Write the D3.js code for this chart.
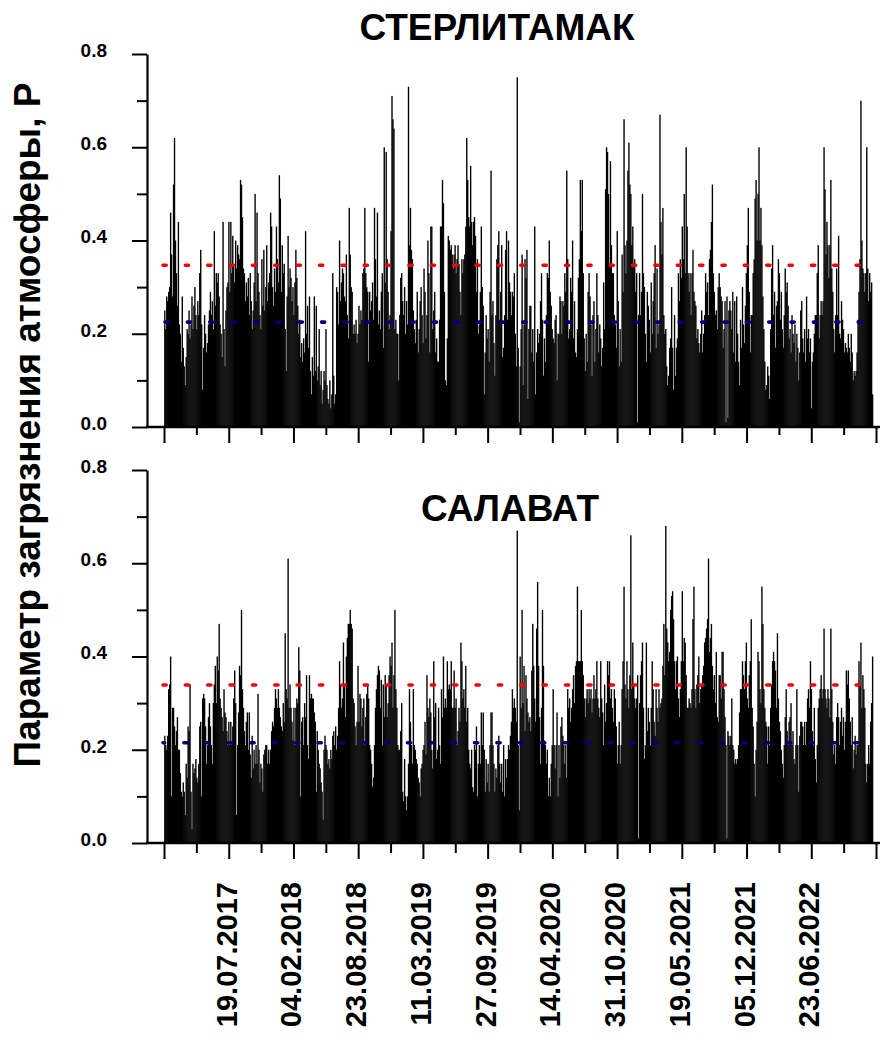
<!DOCTYPE html>
<html>
<head>
<meta charset="utf-8">
<script src="https://cdn.jsdelivr.net/npm/d3@7"></script>
<style>
  html, body { margin: 0; padding: 0; background: #fff; }
  svg { display: block; }
  text { font-family: "Liberation Sans", Arial, sans-serif; font-weight: bold; fill: #000; }
</style>
</head>
<body>
<svg id="chart" width="886" height="1042"></svg>
<script>
// Series: pollution parameter P, one value per 3-day step starting 01.01.2017
const seriesStart = "01.01.2017";
const stepDays = 3;

const sterlitamak = [
  0.25,0.21,0.28,0.27,0.29,0.30,0.46,0.37,0.28,0.52,0.62,0.40,0.33,0.26,0.44,0.22,0.20,0.14,0.28,0.17,
  0.13,0.09,0.15,0.21,0.20,0.25,0.19,0.22,0.28,0.21,0.26,0.30,0.24,0.21,0.27,0.24,0.33,0.38,0.22,0.08,
  0.17,0.24,0.20,0.16,0.18,0.22,0.25,0.29,0.24,0.27,0.21,0.42,0.26,0.33,0.31,0.33,0.28,0.22,0.20,0.15,
  0.44,0.21,0.13,0.25,0.30,0.31,0.44,0.29,0.44,0.33,0.41,0.35,0.31,0.40,0.34,0.39,0.37,0.36,0.53,0.52,
  0.45,0.34,0.33,0.27,0.31,0.28,0.32,0.24,0.33,0.27,0.21,0.25,0.31,0.50,0.27,0.46,0.33,0.29,0.24,0.21,
  0.36,0.26,0.38,0.25,0.30,0.39,0.27,0.31,0.33,0.46,0.43,0.30,0.26,0.34,0.29,0.43,0.36,0.31,0.54,0.49,
  0.29,0.39,0.33,0.35,0.21,0.12,0.28,0.41,0.30,0.34,0.32,0.27,0.30,0.24,0.31,0.38,0.32,0.26,0.20,0.23,
  0.15,0.18,0.14,0.19,0.16,0.42,0.20,0.26,0.17,0.28,0.12,0.07,0.15,0.11,0.28,0.12,0.26,0.10,0.13,0.21,
  0.09,0.12,0.05,0.08,0.12,0.10,0.21,0.09,0.06,0.05,0.10,0.04,0.07,0.33,0.11,0.05,0.07,
  0.30,0.29,0.22,0.40,0.27,0.31,0.34,0.33,0.28,0.27,0.37,0.24,0.19,0.47,0.37,0.30,0.29,0.20,0.22,0.20,
  0.23,0.18,0.20,0.26,0.22,0.25,0.23,0.33,0.34,0.47,0.33,0.30,0.29,0.14,0.29,0.25,0.27,0.31,0.23,0.47,
  0.36,0.28,0.46,0.22,0.25,0.21,0.29,0.33,0.17,0.60,0.31,0.59,0.36,0.29,0.21,0.24,0.42,0.71,0.66,0.64,
  0.21,0.23,0.20,0.20,0.10,0.24,0.32,0.33,0.27,0.24,0.30,0.20,0.27,0.22,0.73,0.39,0.47,0.38,0.36,0.25,
  0.21,0.18,0.23,0.29,0.16,0.21,0.27,0.30,0.24,0.18,0.34,0.29,0.19,0.24,0.40,0.33,0.16,0.43,0.43,0.21,
  0.25,0.29,0.16,0.19,0.14,0.14,0.23,0.43,0.43,0.53,0.48,0.29,0.10,0.09,0.19,0.41,0.40,0.38,0.39,0.37,
  0.34,0.37,0.39,0.33,0.36,0.39,0.35,0.29,0.24,0.36,0.33,0.36,0.37,0.43,0.62,0.53,0.45,0.43,0.56,0.44,
  0.39,0.44,0.45,0.41,0.29,0.36,0.20,0.22,0.29,0.43,0.30,0.26,0.07,0.16,0.24,0.19,0.21,0.14,0.29,0.55,
  0.24,0.27,0.18,0.11,0.24,0.36,0.39,0.42,0.23,0.29,0.39,0.15,0.17,0.24,0.38,0.42,0.23,0.40,0.31,0.29,
  0.24,0.29,0.28,0.33,
  0.20,0.13,0.75,0.17,0.01,0.13,0.21,0.37,0.09,0.22,0.36,0.32,0.38,0.06,0.21,0.26,0.26,0.16,0.21,0.14,
  0.43,0.07,0.16,0.21,0.18,0.20,0.27,0.33,0.23,0.11,0.19,0.14,0.24,0.33,0.32,0.40,0.29,0.26,0.21,0.19,
  0.18,0.23,0.24,0.10,0.20,0.20,0.28,0.27,0.20,0.27,0.26,0.33,0.29,0.55,0.36,0.19,0.21,0.32,0.29,0.40,
  0.19,0.27,0.16,0.15,0.21,0.32,0.36,0.53,0.42,0.53,0.33,0.19,0.12,0.20,0.14,0.29,0.33,0.28,0.22,0.11,
  0.24,0.27,0.14,0.21,0.33,0.24,0.16,0.22,0.19,0.13,0.17,0.31,0.21,0.51,0.60,0.59,0.50,0.35,0.57,0.39,
  0.33,0.33,0.24,0.22,0.17,0.42,0.27,0.13,0.21,0.14,0.37,0.29,0.66,0.39,0.33,0.40,0.55,0.61,0.52,0.50,
  0.39,0.43,0.35,0.36,0.29,0.33,0.01,0.24,0.33,0.24,0.29,0.50,0.33,0.30,0.20,0.14,0.29,0.26,0.23,0.16,
  0.31,0.20,0.27,0.33,0.39,0.17,0.34,0.20,0.22,0.67,0.44,0.37,0.47,0.24,0.20,0.21,0.13,0.09,0.11,0.17,
  0.19,0.30,0.17,0.08,0.24,0.11,0.17,0.19,0.33,0.27,0.36,0.32,0.43,0.36,0.50,0.33,0.60,0.43,0.33,0.29,
  0.33,0.24,0.33,0.38,0.29,
  0.27,0.26,0.19,0.21,0.18,0.16,0.20,0.25,0.16,0.20,0.24,0.33,0.29,0.31,0.24,0.36,0.38,0.44,0.52,0.33,
  0.29,0.24,0.25,0.21,0.30,0.33,0.30,0.28,0.27,0.17,0.21,0.27,0.01,0.28,0.02,0.25,0.27,0.25,0.21,0.29,
  0.16,0.27,0.14,0.28,0.20,0.14,0.09,0.23,0.17,0.30,0.22,0.18,0.26,0.33,0.39,0.47,0.29,0.16,0.24,0.24,
  0.33,0.36,0.49,0.53,0.40,0.50,0.60,0.40,0.47,0.39,0.28,0.21,0.14,0.08,0.09,0.13,0.11,0.06,0.21,0.34,
  0.39,0.24,0.29,0.17,0.26,0.27,0.36,0.33,0.23,0.29,0.21,0.17,0.24,0.34,0.29,0.31,0.26,0.19,0.21,0.16,
  0.24,0.20,0.18,0.22,0.14,0.20,0.17,0.10,0.16,0.25,0.27,0.19,0.16,0.21,0.14,0.28,0.19,0.21,0.16,0.19,
  0.04,0.14,0.16,0.20,0.24,0.24,0.33,0.39,0.19,0.24,0.27,0.24,0.27,0.60,0.51,0.37,0.44,0.39,0.32,0.39,
  0.53,0.34,0.29,0.21,0.16,0.24,0.34,0.24,0.41,0.20,0.19,0.27,0.23,0.21,0.16,0.18,0.17,0.16,0.20,0.17,
  0.14,0.20,0.16,0.10,0.12,0.11,0.12,0.16,0.23,0.29,0.36,0.70,0.40,0.34,0.33,0.29,0.33,0.60,0.34,0.27,
  0.33,0.29,0.31,0.07
];

const salavat = [
  0.23,0.21,0.20,0.23,0.33,0.34,0.40,0.10,0.29,0.29,0.25,0.21,0.24,0.27,0.20,0.20,0.15,0.11,0.10,0.13,
  0.11,0.06,0.17,0.14,0.25,0.24,0.34,0.11,0.03,0.17,0.15,0.16,0.18,0.14,0.13,0.17,0.25,0.26,0.10,0.31,
  0.32,0.31,0.25,0.17,0.21,0.27,0.30,0.25,0.21,0.17,0.30,0.34,0.38,0.30,0.40,0.37,0.47,0.31,0.29,0.27,
  0.24,0.33,0.28,0.27,0.24,0.21,0.26,0.21,0.26,0.21,0.25,0.31,0.37,0.30,0.06,0.21,0.28,0.38,0.36,0.50,
  0.33,0.29,0.24,0.21,0.26,0.28,0.20,0.28,0.19,0.14,0.23,0.16,0.20,0.17,0.21,0.17,0.32,0.20,0.13,0.17,
  0.16,0.11,0.19,0.20,0.21,0.21,0.17,0.20,0.17,0.20,0.24,0.26,0.25,0.29,0.33,0.31,0.29,0.33,0.29,0.27,
  0.25,0.24,0.30,0.26,0.45,0.33,0.31,0.61,0.29,0.34,0.29,0.26,0.22,0.29,0.21,0.29,0.31,0.30,0.42,0.37,
  0.10,0.26,0.27,0.21,0.30,0.27,0.36,0.21,0.18,0.36,0.31,0.32,0.31,0.31,0.28,0.26,0.11,0.24,0.20,0.17,
  0.16,0.13,0.11,0.05,0.20,0.23,0.21,0.20,0.17,0.18,0.16,0.20,0.18,0.23,0.24,0.21,0.25,
  0.20,0.23,0.29,0.39,0.34,0.29,0.31,0.43,0.34,0.27,0.40,0.44,0.47,0.47,0.50,0.47,0.46,0.31,0.30,0.25,
  0.21,0.26,0.38,0.26,0.32,0.31,0.25,0.29,0.31,0.21,0.27,0.32,0.34,0.31,0.21,0.20,0.17,0.12,0.14,0.21,
  0.29,0.33,0.36,0.38,0.37,0.29,0.35,0.21,0.34,0.27,0.36,0.34,0.27,0.30,0.36,0.40,0.38,0.43,0.29,0.36,
  0.50,0.33,0.29,0.21,0.20,0.20,0.24,0.30,0.11,0.09,0.18,0.10,0.07,0.10,0.17,0.33,0.26,0.21,0.17,0.33,
  0.21,0.20,0.18,0.17,0.14,0.13,0.10,0.16,0.17,0.20,0.21,0.26,0.19,0.36,0.29,0.27,0.31,0.28,0.20,0.16,
  0.39,0.27,0.30,0.18,0.20,0.29,0.21,0.17,0.33,0.27,0.40,0.29,0.31,0.29,0.39,0.33,0.34,0.33,0.39,0.29,
  0.29,0.37,0.29,0.31,0.21,0.24,0.29,0.26,0.43,0.39,0.31,0.33,0.29,0.38,0.26,0.29,0.20,0.17,0.16,0.20,
  0.12,0.11,0.21,0.20,0.25,0.10,0.17,0.21,0.17,0.28,0.21,0.28,0.20,0.11,0.18,0.13,0.17,0.11,0.21,0.28,
  0.28,0.21,0.17,0.11,0.16,0.14,0.21,0.23,0.17,0.13,0.17,0.11,0.21,0.10,0.18,0.14,0.18,0.21,0.20,0.23,
  0.26,0.33,0.29,0.31,
  0.29,0.26,0.67,0.21,0.07,0.40,0.29,0.50,0.30,0.38,0.24,0.36,0.31,0.28,0.26,0.27,0.24,0.37,0.47,0.38,
  0.31,0.26,0.46,0.56,0.38,0.27,0.17,0.29,0.50,0.38,0.22,0.21,0.17,0.20,0.10,0.14,0.10,0.17,0.21,0.33,
  0.21,0.16,0.21,0.28,0.10,0.21,0.14,0.25,0.27,0.23,0.21,0.17,0.21,0.14,0.33,0.29,0.31,0.26,0.29,0.33,
  0.36,0.30,0.38,0.39,0.55,0.39,0.39,0.39,0.50,0.39,0.36,0.31,0.27,0.31,0.33,0.30,0.33,0.31,0.33,0.28,
  0.31,0.36,0.31,0.33,0.39,0.31,0.29,0.27,0.39,0.31,0.28,0.21,0.34,0.26,0.30,0.39,0.36,0.39,0.31,0.33,
  0.29,0.26,0.33,0.31,0.25,0.17,0.21,0.26,0.17,0.21,0.33,0.39,0.55,0.34,0.31,0.39,0.33,0.29,0.36,0.66,
  0.33,0.43,0.34,0.31,0.29,0.31,0.36,0.01,0.30,0.36,0.39,0.43,0.29,0.18,0.21,0.43,0.24,0.29,0.26,0.21,
  0.29,0.39,0.33,0.26,0.23,0.33,0.29,0.26,0.33,0.29,0.30,0.31,0.38,0.47,0.36,0.68,0.46,0.43,0.39,0.41,
  0.50,0.53,0.54,0.48,0.39,0.33,0.39,0.40,0.31,0.27,0.33,0.39,0.54,0.39,0.44,0.43,0.36,0.29,0.29,0.31,
  0.30,0.29,0.33,0.48,0.55,
  0.33,0.29,0.34,0.36,0.40,0.30,0.33,0.34,0.36,0.38,0.43,0.44,0.46,0.48,0.61,0.41,0.44,0.47,0.38,0.33,
  0.36,0.30,0.41,0.27,0.26,0.36,0.36,0.31,0.41,0.41,0.33,0.27,0.21,0.01,0.24,0.23,0.21,0.23,0.31,0.21,
  0.20,0.17,0.18,0.17,0.18,0.21,0.28,0.33,0.33,0.39,0.36,0.33,0.39,0.43,0.31,0.29,0.36,0.39,0.48,0.29,
  0.25,0.17,0.10,0.20,0.26,0.41,0.39,0.33,0.30,0.55,0.47,0.33,0.29,0.26,0.25,0.17,0.25,0.21,0.29,0.34,
  0.39,0.41,0.39,0.37,0.29,0.45,0.31,0.26,0.24,0.20,0.17,0.14,0.21,0.27,0.33,0.24,0.21,0.26,0.27,0.30,
  0.21,0.24,0.18,0.17,0.21,0.33,0.21,0.11,0.23,0.26,0.26,0.25,0.21,0.26,0.21,0.26,0.31,0.33,0.29,0.39,
  0.33,0.24,0.21,0.29,0.18,0.13,0.21,0.29,0.31,0.33,0.36,0.31,0.33,0.46,0.33,0.31,0.29,0.33,0.31,0.27,
  0.46,0.33,0.26,0.19,0.21,0.17,0.27,0.30,0.27,0.21,0.26,0.29,0.23,0.27,0.20,0.26,0.37,0.34,0.37,0.31,
  0.26,0.21,0.27,0.16,0.20,0.23,0.19,0.21,0.21,0.39,0.34,0.43,0.29,0.36,0.33,0.29,0.17,0.13,0.17,0.21,
  0.17,0.26,0.30,0.40
];

const panelTitles = ["СТЕРЛИТАМАК", "САЛАВАТ"];
const upperLevels = [0.347, 0.339];   // red dotted level per panel
const meanLevels = [0.225, 0.215];    // blue dotted level per panel
const yMajorTicks = [0, 0.2, 0.4, 0.6, 0.8];
const yMinorTicks = [0.1, 0.3, 0.5, 0.7];
const dateLabels = ["19.07.2017", "04.02.2018", "23.08.2018", "11.03.2019", "27.09.2019",
                    "14.04.2020", "31.10.2020", "19.05.2021", "05.12.2021", "23.06.2022"];
const yTitle = "Параметр загрязнения атмосферы, Р";

const svg = d3.select("#chart");
const parse = d3.utcParse("%d.%m.%Y");
const t0 = parse(seriesStart);

// date axis: ticks every 100 days, labels every 200 days
const axisStart = parse("31.12.2016");
const axisEnd = parse("09.01.2023");
const x = d3.scaleUtc().domain([axisStart, axisEnd]).range([164, 876]);
const majorDates = d3.range(0, 2201, 200).map(d => d3.utcDay.offset(axisStart, d));
const minorDates = d3.range(100, 2200, 200).map(d => d3.utcDay.offset(axisStart, d));

const panels = [
  { data: sterlitamak, top: 54, bottom: 427, title: panelTitles[0], tx: 497, ty: 40 },
  { data: salavat, top: 470, bottom: 843, title: panelTitles[1], tx: 510, ty: 521 }
];

panels.forEach((p, pi) => {
  const y = d3.scaleLinear().domain([0, 0.8]).range([p.bottom, p.top]);
  const g = svg.append("g");

  // bars
  g.append("g").selectAll("rect")
    .data(p.data)
    .join("rect")
    .attr("x", (d, i) => x(d3.utcDay.offset(t0, i * stepDays)) - 0.2)
    .attr("width", (d, i) => x(d3.utcDay.offset(t0, (i + 1) * stepDays)) - x(d3.utcDay.offset(t0, i * stepDays)) + 0.4)
    .attr("y", d => y(d))
    .attr("height", d => y(0) - y(d))
    .attr("fill", "#000");

  // reference levels
  const lvl = [
    { v: upperLevels[pi], c: "#ff0000", off: 0 },
    { v: meanLevels[pi], c: "#000080", off: pi === 0 ? -2 : 1.5 }
  ];
  lvl.forEach(l => {
    g.append("line")
      .attr("x1", 163).attr("x2", 875)
      .attr("y1", y(l.v)).attr("y2", y(l.v))
      .attr("stroke", l.c)
      .attr("stroke-width", 3.6)
      .attr("stroke-linecap", "round")
      .attr("stroke-dasharray", "3.2 19.16")
      .attr("stroke-dashoffset", l.off);
  });

  // y axis
  const yAxisMajor = d3.axisLeft(y).tickValues(yMajorTicks).tickSize(15).tickSizeOuter(0)
    .tickPadding(25).tickFormat(d3.format(".1f"));
  const ya = g.append("g").attr("transform", "translate(147,0)").call(yAxisMajor);
  ya.select(".domain").attr("stroke-width", 2.2);
  ya.selectAll(".tick line").attr("stroke-width", 2);
  ya.selectAll(".tick text").attr("font-size", 19).attr("dy", "0.12em")
    .style("font-family", "'Liberation Sans', Arial, sans-serif");
  const yAxisMinor = d3.axisLeft(y).tickValues(yMinorTicks).tickSize(10).tickSizeOuter(0).tickFormat("");
  const ym = g.append("g").attr("transform", "translate(147,0)").call(yAxisMinor);
  ym.select(".domain").remove();
  ym.selectAll(".tick line").attr("stroke-width", 2);

  // x axis baseline and ticks
  g.append("line").attr("x1", 146).attr("x2", 880)
    .attr("y1", p.bottom).attr("y2", p.bottom)
    .attr("stroke", "#000").attr("stroke-width", 2.4);
  const xMajor = d3.axisBottom(x).tickValues(majorDates).tickSize(16).tickSizeOuter(0).tickFormat("");
  const xa = g.append("g").attr("transform", `translate(0,${p.bottom})`).call(xMajor);
  xa.select(".domain").remove();
  xa.selectAll(".tick line").attr("stroke-width", 2);
  const xMinor = d3.axisBottom(x).tickValues(minorDates).tickSize(pi === 0 ? 8 : 10).tickSizeOuter(0).tickFormat("");
  const xm = g.append("g").attr("transform", `translate(0,${p.bottom})`).call(xMinor);
  xm.select(".domain").remove();
  xm.selectAll(".tick line").attr("stroke-width", 2);

  // title
  g.append("text")
    .attr("x", p.tx).attr("y", p.ty)
    .attr("text-anchor", "middle")
    .attr("font-size", 37)
    .text(p.title);
});

// rotated date labels under the lower panel
svg.append("g").selectAll("text")
  .data(dateLabels)
  .join("text")
  .attr("transform", d => `translate(${x(parse(d)) + 8},882) rotate(-90)`)
  .attr("text-anchor", "end")
  .attr("font-size", 29)
  .text(d => d);

// shared y title
svg.append("text")
  .attr("transform", "translate(40,425) rotate(-90)")
  .attr("text-anchor", "middle")
  .attr("font-size", 37)
  .text(yTitle);
</script>
</body>
</html>
